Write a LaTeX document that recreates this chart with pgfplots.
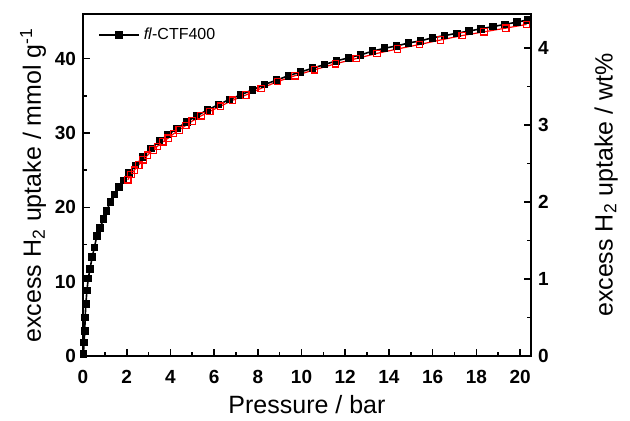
\documentclass[border=0pt]{standalone}
\usepackage{fontspec}
\setmainfont{Liberation Sans}
\usepackage{pgfplots}
\pgfplotsset{compat=1.18}
\begin{document}
\begin{tikzpicture}
\pgfplotsset{
  every axis/.append style={
    scale only axis,
    width=224pt, height=171pt,
    xmin=0, xmax=20.5,
    axis line style={line width=1pt},
    tick style={line width=0.8pt, black},
    major tick length=3.5pt, minor tick length=2pt,
    tick align=inside,
    ticklabel style={font=\bfseries\fontsize{9.5}{10}\selectfont},
    label style={font=\fontsize{12.5}{14}\selectfont},
    /pgf/number format/assume math mode=true,
  },
}
\begin{axis}[
  ymin=0, ymax=46,
  xtick={0,2,...,20}, minor x tick num=1,
  ytick={0,10,...,40}, minor y tick num=1,
  xtick pos=bottom, ytick pos=left,
  xticklabel shift=3.5pt,
  xlabel shift=-1pt,
  ylabel shift=-2.5pt,
  xlabel={Pressure / bar},
  ylabel={excess H\textsubscript{2} uptake / mmol g\textsuperscript{-1}},
  legend style={at={(0.02,0.985)}, anchor=north west, draw=none, fill=none,
    font=\fontsize{8}{9}\selectfont},
  legend image code/.code={
    \draw[mark repeat=2, mark phase=2, #1] plot coordinates {(0cm,0cm) (0.35cm,0cm) (0.7cm,0cm)};},
]
% adsorption
\addplot[black, line width=0.8pt, mark=square*, mark size=1.5pt] coordinates {
(0.02,0.3) (0.05,1.8) (0.08,3.4) (0.1,5.2) (0.13,7.0) (0.18,8.8) (0.24,10.4)
(0.32,11.7) (0.42,13.3) (0.52,14.6) (0.63,16.1) (0.78,17.2) (0.93,18.4)
(1.08,19.5) (1.25,20.7) (1.45,21.7) (1.65,22.7) (1.85,23.6) (2.1,24.6)
(2.4,25.6) (2.75,26.8) (3.1,27.9) (3.5,28.9) (3.9,29.8) (4.3,30.6)
(4.75,31.5) (5.2,32.3) (5.7,33.1) (6.2,33.8) (6.7,34.5) (7.2,35.1)
(7.75,35.8) (8.3,36.5) (8.85,37.1) (9.4,37.7) (9.95,38.2) (10.5,38.7)
(11.05,39.2) (11.6,39.7) (12.15,40.1) (12.7,40.5) (13.25,41.0) (13.8,41.4)
(14.35,41.7) (14.9,42.1) (15.45,42.4) (16.0,42.8) (16.55,43.1) (17.1,43.4)
(17.65,43.7) (18.2,44.0) (18.75,44.3) (19.3,44.6) (19.85,44.9) (20.35,45.2)
};
\addlegendentry{\textit{fl}-CTF400}
% desorption
\addplot[red, line width=0.6pt, mark=square, mark size=1.6pt,
  mark options={fill=white}, forget plot] coordinates {
(20.3,44.6) (19.35,44.1) (18.35,43.6) (17.35,43.1) (16.35,42.5) (15.4,41.9)
(14.4,41.3) (13.45,40.7) (12.5,40.0) (11.55,39.3) (10.6,38.5) (9.7,37.7)
(8.9,36.9) (8.15,36.0) (7.45,35.1) (6.85,34.4) (6.3,33.6) (5.8,32.9)
(5.4,32.3) (5.0,31.6) (4.7,31.0) (4.4,30.4) (4.15,29.9) (3.9,29.3)
(3.65,28.8) (3.4,28.2) (3.2,27.7) (2.95,27.0) (2.75,26.4) (2.55,25.7)
(2.35,25.0) (2.2,24.4) (2.05,23.7)
};
\end{axis}
\begin{axis}[
  ymin=0, ymax=4.44,
  axis x line=none,
  axis y line*=right,
  ytick={0,1,...,4}, minor y tick num=1,
  ylabel shift=16pt,
  ylabel={excess H\textsubscript{2} uptake / wt\%},
]
\end{axis}
\path ([shift={(-41.5pt,-32.5pt)}]current axis.south west) rectangle ([shift={(49.5pt,7pt)}]current axis.north east);
\end{tikzpicture}
\end{document}
